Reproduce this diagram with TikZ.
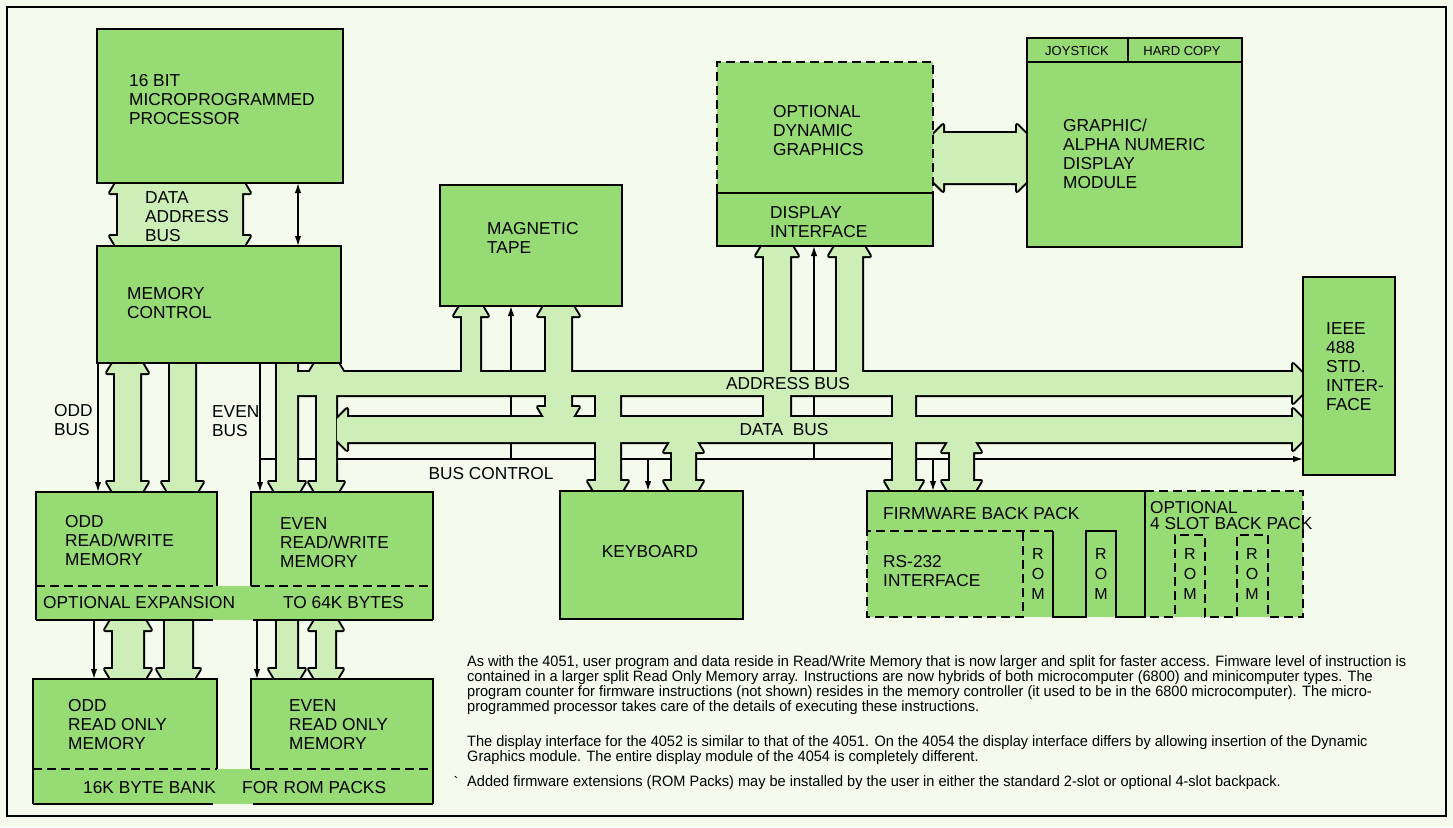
\documentclass[tikz,border=0pt]{standalone}
\usepackage{fontspec}
\setmainfont{Liberation Sans}
\newfontfamily\notefont[FakeStretch=0.97]{Liberation Sans}
\usetikzlibrary{arrows.meta}

\definecolor{paper}{RGB}{244,250,236}
\definecolor{boxgreen}{RGB}{150,219,116}
\definecolor{busgreen}{RGB}{205,238,182}

\tikzset{
  place/.style={anchor=north west,inner sep=0pt,outer sep=0pt},
  box/.style={draw=black,line width=2pt,fill=boxgreen},
  edge/.style={line width=2pt},
  dashline/.style={line width=2pt,dash pattern=on 9pt off 5pt},
  ctrl/.style={line width=1.5pt,-{Latex[length=10pt,width=6.5pt]}},
  ctrlboth/.style={line width=1.5pt,{Latex[length=10pt,width=6.5pt]}-{Latex[length=10pt,width=6.5pt]}},
  lbl/.style={font=\fontsize{17.3}{19}\selectfont,align=left,anchor=north west,inner sep=0pt},
  buslbl/.style={font=\fontsize{17.3}{19}\selectfont,inner sep=0pt},
  small/.style={font=\fontsize{13}{15}\selectfont,inner sep=0pt},
  rom/.style={font=\fontsize{16}{20}\selectfont,align=center,anchor=north,inner sep=0pt},
}

% fat bus arrows, called twice: thick outline first, then the fill on top (joints merge)
% vertical: x left/x right/y top/y bottom/head at top/head at bottom
\newcommand\busverts[1]{%
  \foreach \xa/\xb/\ya/\yb/\ha/\hb in {
      118/242/183/246/1/1,
      115/140/363/492/1/1, 170/195/363/492/0/1,
      277/297/363/492/0/1, 317/336/363/492/1/1,
      113/143/620/679/1/1, 165/192/620/679/0/1,
      277/297/620/679/0/1, 317/335/620/679/1/1,
      462/480/306/380/1/0, 546/571/306/417/1/1,
      764/790/246/425/1/0, 837/862/246/380/1/0,
      596/620/385/491/0/1, 672/695/442/491/1/1,
      893/915/385/491/0/1, 950/973/442/491/1/1}
    \path[#1] (\xa,\ya+10*\ha) -- (\xa-8*\ha,\ya+10*\ha) -- (\xa-2*\ha,\ya)
      -- (\xb+2*\ha,\ya) -- (\xb+8*\ha,\ya+10*\ha) -- (\xb,\ya+10*\ha)
      -- (\xb,\yb-10*\hb) -- (\xb+8*\hb,\yb-10*\hb) -- (\xb+2*\hb,\yb)
      -- (\xa-2*\hb,\yb) -- (\xa-8*\hb,\yb-10*\hb) -- (\xa,\yb-10*\hb) -- cycle;
}
% horizontal: x left/x right/y top/y bottom/head at left/head at right
\newcommand\bushoriz[1]{%
  \foreach \xa/\xb/\ya/\yb/\ha/\hb in {
      290/1303/372/395/0/1,
      337/1303/417/442/1/1,
      933/1027/133/183/1/1}
    \path[#1] (\xa+10*\ha,\ya) -- (\xb-10*\hb,\ya) -- (\xb-10*\hb,\ya-8*\hb)
      -- (\xb,\ya+2*\hb) -- (\xb,\yb-2*\hb) -- (\xb-10*\hb,\yb+8*\hb)
      -- (\xb-10*\hb,\yb) -- (\xa+10*\ha,\yb) -- (\xa+10*\ha,\yb+8*\ha)
      -- (\xa,\yb-2*\ha) -- (\xa,\ya+2*\ha) -- (\xa+10*\ha,\ya-8*\ha) -- cycle;
}

\begin{document}
\begin{tikzpicture}[x=1pt,y=-1pt]
\useasboundingbox (0,0) rectangle (1453,827);
\fill[paper] (0,0) rectangle (1453,827);
\draw[edge] (7,7) rectangle (1446,816);

% block positions (drawn later, over the bus ends)
\path (97,29)    node[place,minimum width=246,minimum height=154] (proc) {}
      (97,246)   node[place,minimum width=244,minimum height=117] (memctl) {}
      (440,185)  node[place,minimum width=182,minimum height=121] (tape) {}
      (717,62)   node[place,minimum width=216,minimum height=131] (dyn) {}
      (717,193)  node[place,minimum width=216,minimum height=53]  (dispif) {}
      (1027,38)  node[place,minimum width=215,minimum height=209] (dispmod) {}
      (1303,277) node[place,minimum width=92,minimum height=198]  (ieee) {}
      (560,491)  node[place,minimum width=183,minimum height=128] (kbd) {}
      (867,491)  node[place,minimum width=278,minimum height=126] (fw) {}
      (1145,491) node[place,minimum width=158,minimum height=126] (opt) {}
      (36,492)   node[place,minimum width=181,minimum height=94]  (oddrw) {}
      (251,492)  node[place,minimum width=182,minimum height=94]  (evenrw) {}
      (36,586)   node[place,minimum width=397,minimum height=34]  (expan) {}
      (33,679)   node[place,minimum width=184,minimum height=90]  (oddrom) {}
      (251,679)  node[place,minimum width=182,minimum height=90]  (evenrom) {}
      (33,769)   node[place,minimum width=400,minimum height=35]  (rombank) {};

% control lines, running behind the buses
\coordinate (bcl) at (260,459);
\draw[ctrl] (bcl) -- (bcl -| ieee.west);
\foreach \x/\n in {511/tape,814/dispif} {
  \coordinate (tap) at (\x,459);
  \draw[ctrl] (tap) -- (tap |- \n.south);
}
\foreach \x/\n in {648/kbd,933/fw} {
  \coordinate (tap) at (\x,459);
  \draw[ctrl] (tap) -- (tap |- \n.north);
}
\coordinate (pm) at (298,0);
\draw[ctrlboth] (pm |- proc.south) -- (pm |- memctl.north);
\coordinate (oddline) at (98,0);
\coordinate (evenline) at (260,0);
\draw[ctrl] (oddline |- memctl.south) -- (oddline |- oddrw.north);
\draw[ctrl] (evenline |- memctl.south) -- (evenline |- evenrw.north);
\coordinate (oddline2) at (94,0);
\coordinate (evenline2) at (257,0);
\draw[ctrl] (oddline2 |- expan.south) -- (oddline2 |- oddrom.north);
\draw[ctrl] (evenline2 |- expan.south) -- (evenline2 |- evenrom.north);

% buses
\busverts{draw=black,line width=4pt,line join=round}
\bushoriz{draw=black,line width=4pt,line join=round}
\busverts{fill=busgreen}
\bushoriz{fill=busgreen}

% blocks
\foreach \n in {proc,memctl,tape,dispif,dispmod,ieee,kbd}
  \draw[box] (\n.north west) rectangle (\n.south east);
\fill[boxgreen] (dyn.north west) rectangle (dyn.south east);
\draw[dashline] (dyn.south west) -- (dyn.north west) -- (dyn.north east) -- (dyn.south east);
\draw[box] (dispif.north west) rectangle (dispif.south east);
\draw[edge] ([yshift=-24pt]dispmod.north west) -- ([yshift=-24pt]dispmod.north east);
\draw[edge] ([xshift=101pt]dispmod.north west) -- ++(0,24);

% read/write and read only memories with their shared strips
\foreach \a/\b/\s in {oddrw/evenrw/expan,oddrom/evenrom/rombank} {
  \fill[boxgreen] (\a.north west) rectangle (\a.south east);
  \fill[boxgreen] (\b.north west) rectangle (\b.south east);
  \fill[boxgreen] (\s.north west) rectangle (\s.south east);
  \draw[edge] (\s.south west) |- (\a.north east) -- (\a.south east);
  \draw[edge] (\b.south west) |- (\b.north east) -- (\s.south east);
  \draw[dashline] (\a.south west) -- (\a.south east);
  \draw[dashline] (\b.south west) -- (\b.south east);
  \draw[edge] (\s.south west) -- (\s.south west -| 213,0);
  \draw[edge] (\s.south east) -- (\s.south east -| 253,0);
}

% back packs
\fill[boxgreen] (fw.north west) rectangle (opt.south east);
\draw[edge] (867,531) -- (fw.north west) -- (fw.north east) -- (fw.south east)
  -- (1116,617) -- (1116,531) -- (1086,531) -- (1086,617) -- (1053,617) -- (1053,531);
\draw[dashline] (1053,531) -- (867,531) -- (867,617) -- (1023,617) -- (1023,531);
\draw[dashline] (fw.north east) -- (opt.north east) -- (opt.south east)
  -- (1268,617) -- (1268,535) -- (1237,535) -- (1237,617) -- (1205,617)
  -- (1205,535) -- (1175,535) -- (1175,617) -- (1145,617);

% labels
\node[lbl] (proc-t) at (129,74) {16 BIT\\MICROPROGRAMMED\\PROCESSOR};
\node[lbl] (dab-t) at (145,191) {DATA\\ADDRESS\\BUS};
\node[lbl] (memctl-t) at (127,287) {MEMORY\\CONTROL};
\node[lbl] (oddbus-t) at (54,404) {ODD\\BUS};
\node[lbl] (evenbus-t) at (212,405) {EVEN\\BUS};
\node[lbl] (tape-t) at (487,222) {MAGNETIC\\TAPE};
\node[lbl] (dyn-t) at (773,105) {OPTIONAL\\DYNAMIC\\GRAPHICS};
\node[lbl] (dispif-t) at (770,206) {DISPLAY\\INTERFACE};
\node[lbl] (dispmod-t) at (1063,119) {GRAPHIC/\\ALPHA NUMERIC\\DISPLAY\\MODULE};
\node[small] (joy-t) at (1077,51) {JOYSTICK};
\node[small] (hard-t) at (1182,51) {HARD COPY};
\node[lbl] (ieee-t) at (1326,322) {IEEE\\488\\STD.\\INTER-\\FACE};
\node[buslbl] (addr-t) at (788,384) {ADDRESS BUS};
\node[buslbl] (data-t) at (784,430) {DATA\ \ BUS};
\node[buslbl] (bc-t) at (491,474) {BUS CONTROL};
\node[lbl] (oddrw-t) at (65,515) {ODD\\READ/WRITE\\MEMORY};
\node[lbl] (evenrw-t) at (280,517) {EVEN\\READ/WRITE\\MEMORY};
\node[buslbl,anchor=west] (expan-t1) at (43,603) {OPTIONAL EXPANSION};
\node[buslbl,anchor=west] (expan-t2) at (283,603) {TO 64K BYTES};
\node[lbl] (oddrom-t) at (68,699) {ODD\\READ ONLY\\MEMORY};
\node[lbl] (evenrom-t) at (289,699) {EVEN\\READ ONLY\\MEMORY};
\node[buslbl,anchor=west] (bank-t1) at (83,788) {16K BYTE BANK};
\node[buslbl,anchor=west] (bank-t2) at (242,788) {FOR ROM PACKS};
\node[buslbl] (kbd-t) at (650,552) {KEYBOARD};
\node[buslbl,anchor=west] (fw-t) at (883,514) {FIRMWARE BACK PACK};
\node[lbl] (rs-t) at (883,555) {RS-232\\INTERFACE};
\node[lbl,font=\fontsize{17.3}{16.5}\selectfont] (opt-t) at (1150,501) {OPTIONAL\\4 SLOT BACK PACK};
\foreach \x in {1038,1101,1190,1252}
  \node[rom] (rom\x) at (\x,548) {R\\O\\M};

% notes
\node[anchor=north west,inner sep=0pt,align=left,font={\notefont\fontsize{15}{15}\selectfont}] (notes) at (467,655.5)
  {As with the 4051, user program and data reside in Read/Write Memory that is now larger and split for faster access. Fimware level of instruction is\\
   contained in a larger split Read Only Memory array. Instructions are now hybrids of both microcomputer (6800) and minicomputer types. The\\
   program counter for firmware instructions (not shown) resides in the memory controller (it used to be in the 6800 microcomputer). The micro-\\
   programmed processor takes care of the details of executing these instructions.\\[20pt]
   The display interface for the 4052 is similar to that of the 4051. On the 4054 the display interface differs by allowing insertion of the Dynamic\\
   Graphics module. The entire display module of the 4054 is completely different.\\[10pt]
   Added firmware extensions (ROM Packs) may be installed by the user in either the standard 2-slot or optional 4-slot backpack.};
\node[inner sep=0pt,font={\notefont\fontsize{15}{15}\selectfont}] (tick) at (456,782) {`};
\end{tikzpicture}
\end{document}
